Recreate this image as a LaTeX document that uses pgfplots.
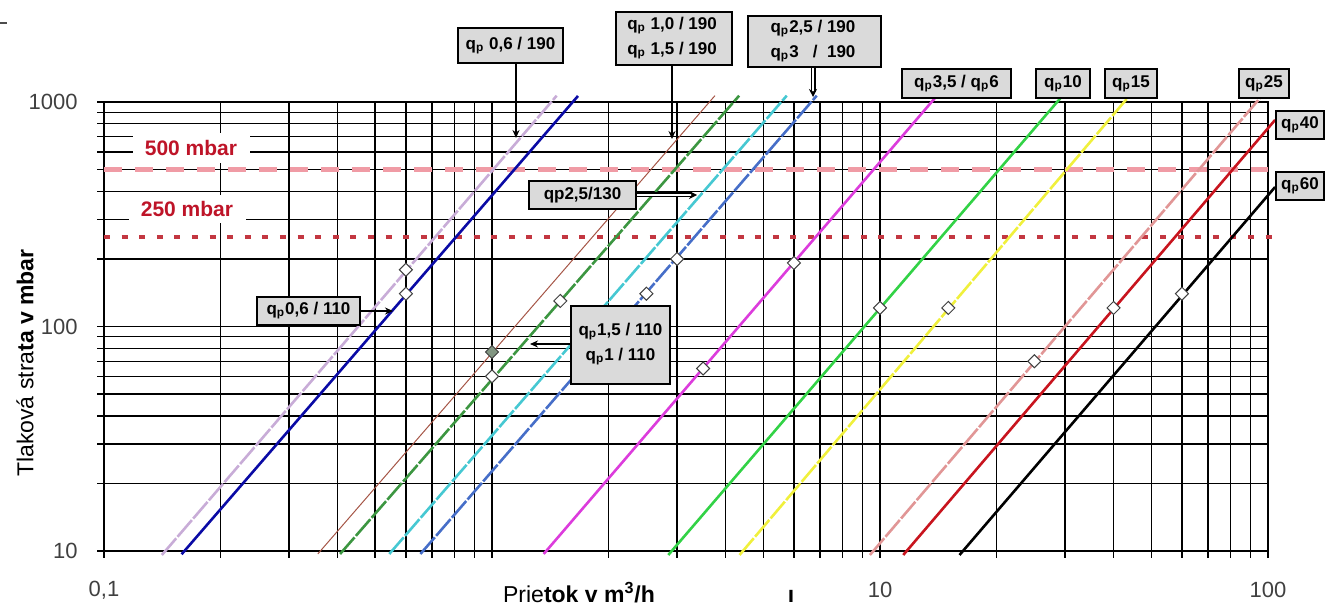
\documentclass[border=0pt]{standalone}
\usepackage{fontspec}
\setmainfont{Liberation Sans}
\usepackage{pgfplots}
\pgfplotsset{compat=1.18}
\usetikzlibrary{arrows.meta}

\definecolor{lav}{RGB}{200,172,215}
\definecolor{navy}{RGB}{10,10,165}
\definecolor{brn}{RGB}{165,85,70}
\definecolor{dgreen}{RGB}{60,150,65}
\definecolor{cyn}{RGB}{70,200,210}
\definecolor{steel}{RGB}{70,110,200}
\definecolor{mag}{RGB}{220,60,220}
\definecolor{bgreen}{RGB}{50,210,70}
\definecolor{yel}{RGB}{240,240,60}
\definecolor{rosy}{RGB}{225,150,150}
\definecolor{dred}{RGB}{200,20,30}
\definecolor{lim500}{RGB}{240,155,165}
\definecolor{lim250}{RGB}{195,55,65}
\definecolor{limtxt}{RGB}{190,20,40}
\definecolor{boxgray}{RGB}{218,218,218}
\definecolor{mkgray}{RGB}{130,150,130}

\newcommand\qp{q\textsubscript{p}}

\begin{document}
\begin{tikzpicture}
\begin{axis}[
    at={(0,0)}, anchor=south west,
    scale only axis, width=582pt, height=224.5pt,
    xmode=log, ymode=log,
    xmin=0.1, xmax=100, ymin=10, ymax=1000,
    clip=false,
    axis line style={black, line width=0.75pt},
    grid=both,
    major grid style={black, line width=0.7pt},
    minor grid style={black, line width=0.7pt},
    tick pos=left, tick align=outside,
    major tick length=3.5pt, minor tick length=3.5pt,
    tick style={black, line width=0.7pt},
    xtick={0.1,1,10,100},
    minor xtick={0.2,0.3,0.4,0.5,0.6,0.7,0.8,0.9,2,3,4,5,6,7,8,9,20,30,40,50,60,70,80,90},
    xticklabels={{\mbox{0,1}},{},{\mbox{10}},{\mbox{100}}},
    ytick={10,100,1000},
    minor ytick={20,30,40,50,60,70,80,90,200,300,400,500,600,700,800,900},
    yticklabels={{\mbox{10}},{\mbox{100}},{\mbox{1000}}},
    tick label style={font=\fontsize{11}{13}\selectfont, text=black!75, inner sep=0pt},
    xticklabel style={anchor=center, yshift=-16pt},
    yticklabel style={anchor=east, xshift=-9.5pt},
    dashline/.style={line width=1.3pt, dash pattern=on 11pt off 1pt},
]
% pressure limits
\addplot[lim500, line width=2.2pt, dash pattern=on 9pt off 6.5pt] coordinates {(0.1,500) (100,500)};
\addplot[lim250, line width=1.8pt, dash pattern=on 3pt off 5.8pt] coordinates {(0.1,250) (103,250)};

% meter curves (end points)
\addplot[lav, dashline] coordinates {(0.141,9.6) (1.468,1067)};
\addplot[navy, line width=1.3pt] coordinates {(0.1585,9.67) (1.666,1064)};
\addplot[brn, line width=0.5pt] coordinates {(0.3557,9.7) (3.755,1067)};
\addplot[dgreen, dashline] coordinates {(0.406,9.7) (4.335,1067)};
\addplot[cyn, dashline] coordinates {(0.5436,9.7) (5.75,1067)};
\addplot[steel, dashline] coordinates {(0.654,9.7) (6.87,1067)};
\addplot[mag, line width=1.3pt] coordinates {(1.359,9.7) (13.86,1042)};
\addplot[bgreen, line width=1.3pt] coordinates {(2.847,9.6) (29.2,1042)};
\addplot[yel, dashline] coordinates {(4.345,9.6) (43.45,1042)};
\addplot[rosy, dashline] coordinates {(9.42,9.6) (95.3,1040)};
\addplot[dred, line width=1.3pt] coordinates {(11.48,9.6) (104.3,832)};
\addplot[black, line width=1.3pt] coordinates {(16.03,9.6) (104.3,418)};

% rated points
\addplot[only marks, mark=square*, mark size=2.3pt,
    mark options={rotate=45, fill=white, draw=black!75, line width=0.5pt, solid}]
    coordinates {(0.6,179) (0.6,140) (1.0,60) (1.5,130) (2.5,140) (3.0,200)
                 (6.0,192) (3.5,65) (10,121) (15,121) (25,70) (40,121) (60,140)};
\addplot[only marks, mark=square*, mark size=2.3pt,
    mark options={rotate=45, fill=mkgray, draw=black!75, line width=0.5pt, solid}]
    coordinates {(1.0,77)};

\coordinate (ll) at (rel axis cs:0,0);
\end{axis}

\begin{scope}[shift={(ll)}]
\begin{scope}[x=0.5pt, y=-0.5pt, shift={(-104,-551)}]
  % limit labels
  \node[fill=white, minimum width=58.5pt, minimum height=15pt, inner sep=0pt,
        font=\fontsize{10.5}{12}\selectfont\bfseries, text=limtxt] at (191,148) {500 mbar};
  \node[fill=white, minimum width=58.5pt, minimum height=14pt, inner sep=0pt,
        font=\fontsize{10.5}{12}\selectfont\bfseries, text=limtxt] at (187,209) {250 mbar};

  \begin{scope}[font=\fontsize{8.5}{10}\selectfont\bfseries, line width=0.65pt]
    % leaders
    \draw[-{Stealth[length=4pt,width=3.5pt]}] (516,63) -- (516,138);
    \draw[-{Stealth[length=4pt,width=3.5pt]}] (672,65) -- (672,139);
    \draw[double, double distance=1.2pt, -{Stealth[length=4pt,width=4pt]}] (813,67) -- (813,97);
    \draw[double, double distance=1.2pt, -{Stealth[length=4pt,width=4pt]}] (636,195) -- (697,195);
    \draw[-{Stealth[length=4pt,width=3.5pt]}] (360,311) -- (393,311);
    \draw[-{Stealth[length=4pt,width=3.5pt]}] (571,344) -- (530,344);

    % boxes
    \draw[fill=boxgray] (458,28) rectangle (563,63);
    \node at (510.5,45.5) {\qp{} 0,6 / 190};
    \draw[fill=boxgray] (616,12) rectangle (732,65);
    \node[anchor=west] at (620,26) {\qp{} 1,0 / 190};
    \node[anchor=west] at (620,51) {\qp{} 1,5 / 190};
    \draw[fill=boxgray] (748,16) rectangle (881,67);
    \node at (813,29) {\qp2,5 / 190};
    \node at (813,54) {\qp3 \ \ / \ 190};
    \draw[fill=boxgray] (529,181) rectangle (636,209);
    \node at (582.5,195) {qp2,5/130};
    \draw[fill=boxgray] (257,297) rectangle (360,325);
    \node at (308.5,311) {\qp0,6 / 110};
    \draw[fill=boxgray] (571,306) rectangle (670,384);
    \node at (620.5,332) {\qp1,5 / 110};
    \node at (620.5,357) {\qp1 / 110};
    \draw[fill=boxgray] (902,69) rectangle (1011,98);
    \node at (956.5,83.5) {\qp3,5 / \qp6};
    \draw[fill=boxgray] (1036,69) rectangle (1090,98);
    \node at (1063,83.5) {\qp10};
    \draw[fill=boxgray] (1105,69) rectangle (1157,98);
    \node at (1131,83.5) {\qp15};
    \draw[fill=boxgray] (1239,69) rectangle (1289,98);
    \node at (1264,83.5) {\qp25};
    \draw[fill=boxgray] (1276,111) rectangle (1324,139);
    \node at (1300,125) {\qp40};
    \draw[fill=boxgray] (1276,172) rectangle (1324,200);
    \node at (1300,186) {\qp60};
  \end{scope}

  % axis titles
  \node[rotate=90, font=\fontsize{11.5}{13}\selectfont] at (25,363) {Tlaková stra\textbf{ta v mbar}};
  \node[anchor=base, font=\fontsize{11.5}{13}\selectfont] at (579,602) {Prie\textbf{tok v m\textsuperscript{3}/h}};
  \node[anchor=base, font=\fontsize{11.5}{13}\selectfont\bfseries] at (791,602) {ı};
  \draw[black!70, line width=0.6pt] (0,23) -- (7,23);

  \pgfresetboundingbox
  \path[use as bounding box] (0,0) rectangle (1326,611);
\end{scope}
\end{scope}
\end{tikzpicture}
\end{document}
